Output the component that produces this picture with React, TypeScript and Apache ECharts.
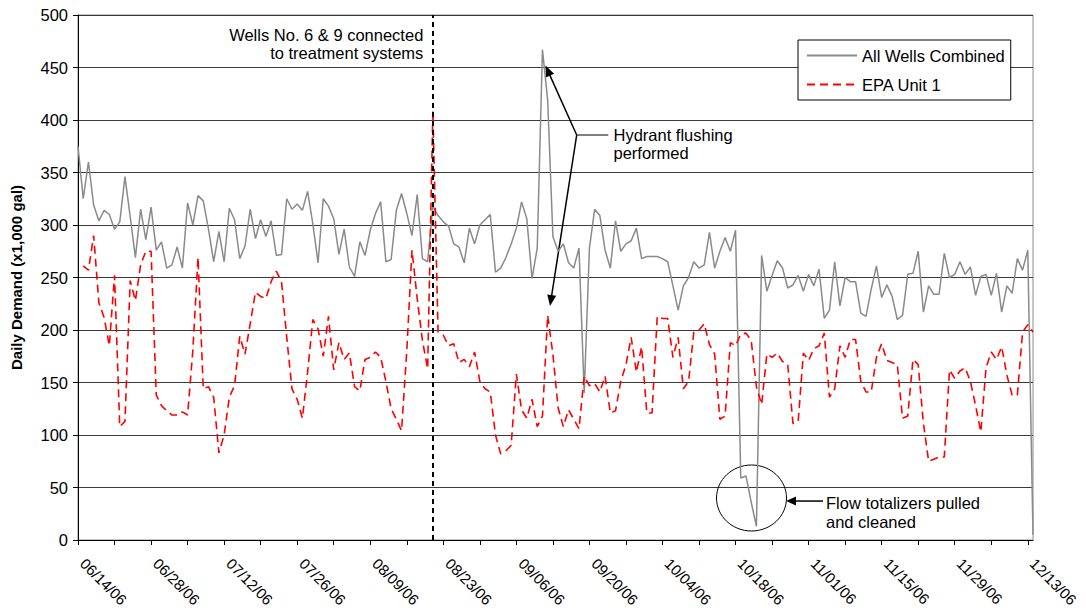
import React, { useEffect, useRef } from "react";
import * as echarts from "echarts";

// Day 0 = 06/14/06, one value per day up to 12/14/06 (day 183)
const START_YEAR = 2006;
const START_MONTH = 5; // June (0-based)
const START_DAY = 14;
const LAST_DAY = 183;
const TICK_DAYS = 7;
const LABEL_DAYS = 14;
const CONNECT_DAY = 68; // Wells No. 6 & 9 connected

const allWellsCombined: number[] = [
  375, 325, 360, 319, 304, 314, 310, 296, 303, 346,
  308, 269, 315, 286, 317, 276, 284, 259, 262, 279,
  259, 321, 300, 328, 323, 296, 265, 294, 265, 316,
  305, 268, 280, 315, 287, 305, 289, 304, 271, 272,
  325, 315, 320, 314, 332, 301, 264, 325, 318, 306,
  272, 296, 260, 251, 284, 271, 295, 311, 322, 265,
  267, 314, 330, 311, 290, 329, 268, 265, 318, 309,
  303, 299, 282, 279, 264, 297, 282, 300, 305, 310,
  255, 259, 269, 282, 297, 322, 306, 249, 278, 467,
  419, 289, 275, 282, 264, 259, 278, 140, 278, 315,
  309, 276, 259, 304, 275, 282, 285, 297, 268, 270,
  270, 270, 268, 265, 242, 219, 242, 250, 265, 259,
  262, 293, 259, 275, 288, 275, 295, 59, 61, 36,
  13, 271, 237, 252, 266, 259, 240, 243, 252, 237,
  253, 242, 258, 211, 219, 265, 223, 250, 246, 246,
  216, 213, 239, 261, 231, 243, 232, 210, 214, 253,
  254, 275, 217, 242, 234, 234, 273, 250, 253, 265,
  253, 260, 233, 251, 253, 233, 254, 217, 242, 235,
  268, 257, 276, 5,
];

const epaUnit1: (number | null)[] = [
  null, 261, 257, 290, 226, 212, 185, 252, 108, 113,
  247, 228, 262, 275, 275, 138, 128, 123, 119, 119,
  122, 119, 180, 269, 144, 146, 136, 83, 100, 136,
  147, 194, 177, 206, 236, 232, 230, 246, 256, 246,
  193, 144, 134, 116, 160, 210, 201, 175, 213, 162,
  188, 172, 178, 146, 142, 172, 174, 179, 174, 151,
  125, 115, 104, 180, 276, 230, 190, 163, 408, 198,
  195, 185, 187, 169, 172, 165, 179, 151, 144, 141,
  100, 82, 85, 90, 158, 124, 116, 134, 108, 118,
  214, 177, 126, 108, 124, 115, 106, 156, 147, 149,
  141, 156, 121, 123, 151, 167, 193, 160, 184, 121,
  121, 213, 211, 211, 174, 193, 144, 151, 198, 200,
  206, 186, 177, 115, 118, 188, 185, 196, 197, 190,
  146, 129, 177, 174, 178, 170, 167, 111, 113, 178,
  171, 182, 185, 197, 136, 144, 185, 174, 191, 191,
  151, 141, 141, 174, 187, 171, 169, 167, 116, 118,
  172, 167, 111, 75, 77, 79, 79, 162, 154, 161,
  164, 151, 128, 103, 164, 179, 172, 184, 157, 138,
  138, 198, 205, 198,
];

const yTicks = { min: 0, max: 500, interval: 50 };

const FONT = '"Liberation Sans", Arial, Helvetica, sans-serif';
const FS = 16.5;

function dayLabel(day: number): string {
  const d = new Date(Date.UTC(START_YEAR, START_MONTH, START_DAY + day));
  const mm = String(d.getUTCMonth() + 1).padStart(2, "0");
  const dd = String(d.getUTCDate()).padStart(2, "0");
  const yy = String(d.getUTCFullYear() % 100).padStart(2, "0");
  return `${mm}/${dd}/${yy}`;
}

function arrow(from: number[], tip: number[], width: number, len = 11, hw = 4.5) {
  const dx = tip[0] - from[0];
  const dy = tip[1] - from[1];
  const L = Math.sqrt(dx * dx + dy * dy) || 1;
  const ux = dx / L;
  const uy = dy / L;
  const bx = tip[0] - ux * len;
  const by = tip[1] - uy * len;
  const px = -uy;
  const py = ux;
  return [
    {
      type: "line",
      shape: { x1: from[0], y1: from[1], x2: bx + ux * 1, y2: by + uy * 1 },
      style: { stroke: "#000", lineWidth: width },
      silent: true,
    },
    {
      type: "polygon",
      shape: {
        points: [
          [tip[0], tip[1]],
          [bx + px * hw, by + py * hw],
          [bx - px * hw, by - py * hw],
        ],
      },
      style: { fill: "#000" },
      silent: true,
    },
  ];
}

export default function App() {
  const ref = useRef<HTMLDivElement>(null);

  useEffect(() => {
    if (!ref.current) return;
    const chart = echarts.init(ref.current, undefined, { renderer: "svg" });

    const grayData = allWellsCombined.map((v, i) => [i, v]);
    const redData = epaUnit1
      .map((v, i) => [i, v])
      .filter((p) => p[1] !== null);

    const option: any = {
      animation: false,
      backgroundColor: "#fff",
      textStyle: { fontFamily: FONT },
      grid: {
        left: 78,
        right: 53,
        top: 15,
        bottom: 73,
        containLabel: false,
        outerBoundsMode: "none",
        show: true,
        borderColor: "#8c8c8c",
        borderWidth: 1,
        backgroundColor: "transparent",
      },
      legend: {
        left: 798,
        top: 40,
        orient: "vertical",
        backgroundColor: "#fff",
        borderColor: "#000",
        borderWidth: 1,
        borderRadius: 0,
        padding: [7, 6, 7, 8],
        itemWidth: 50,
        itemHeight: 14,
        itemGap: 12,
        itemStyle: { opacity: 0, color: "transparent", borderWidth: 0 },
        textStyle: { fontSize: FS, color: "#000", fontFamily: FONT },
        data: ["All Wells Combined", "EPA Unit 1"],
      },
      xAxis: {
        type: "value",
        min: 0,
        max: LAST_DAY,
        interval: TICK_DAYS,
        axisLine: { show: true, onZero: false, lineStyle: { color: "#000", width: 1 } },
        axisTick: { show: true, length: 5, lineStyle: { color: "#000" } },
        splitLine: { show: false },
        axisLabel: {
          rotate: -45,
          margin: 16,
          padding: [0, 0, 0, 7],
          fontSize: 15,
          color: "#000",
          fontFamily: FONT,
          showMaxLabel: false,
          formatter: (v: number) => (v % LABEL_DAYS === 0 ? dayLabel(v) : ""),
        },
      },
      yAxis: {
        type: "value",
        min: yTicks.min,
        max: yTicks.max,
        interval: yTicks.interval,
        name: "Daily Demand (x1,000 gal)",
        nameLocation: "middle",
        nameGap: 54,
        nameTextStyle: { fontSize: 15, fontWeight: "bold", color: "#000", fontFamily: FONT },
        axisLine: { show: true, lineStyle: { color: "#000", width: 1 } },
        axisTick: { show: true, length: 5, lineStyle: { color: "#000" } },
        splitLine: { show: true, lineStyle: { color: "#3a3a3a", width: 1 } },
        axisLabel: { fontSize: FS, color: "#000", margin: 10, fontFamily: FONT },
      },
      series: [
        {
          name: "All Wells Combined",
          type: "line",
          data: grayData,
          symbol: "none",
          showSymbol: false,
          lineStyle: { color: "#8a8a8a", width: 1.5 },
          itemStyle: { color: "#8a8a8a" },
          z: 2,
          markLine: {
            silent: true,
            symbol: ["none", "none"],
            label: { show: false },
            lineStyle: { color: "#000", type: [5, 4], width: 2 },
            data: [{ xAxis: CONNECT_DAY }],
          },
        },
        {
          name: "EPA Unit 1",
          type: "line",
          data: redData,
          symbol: "none",
          showSymbol: false,
          lineStyle: { color: "#ff0000", width: 1.6, type: [8, 5] },
          itemStyle: { color: "#ff0000" },
          z: 3,
        },
      ],
    };
    chart.setOption(option);

    const P = (d: number, v: number) =>
      chart.convertToPixel({ gridIndex: 0 }, [d, v]) as number[];

    const textStyle = (text: string, align: string) => ({
      text,
      font: `${FS}px ${FONT}`,
      fill: "#000",
      align,
      verticalAlign: "middle",
    });

    const wells1 = P(66.17, 481.0);
    const wells2 = P(66.17, 463.5);
    const hub = P(95.56, 385.7);
    const upTip = P(89.58, 451.9);
    const lowTip = P(90.45, 222.9);
    const connEnd = P(101.62, 385.7);
    const hyd1 = P(102.61, 385.7);
    const hyd2 = P(102.61, 368.1);
    const circ = P(129.06, 40);
    const flowFrom = P(142.76, 37.1);
    const flowTip = P(135.67, 37.1);
    const flow1 = P(143.33, 35.7);
    const flow2 = P(143.33, 17.6);

    const graphic: any[] = [
      { type: "text", x: wells1[0], y: wells1[1], style: textStyle("Wells No. 6 & 9 connected", "right"), silent: true },
      { type: "text", x: wells2[0], y: wells2[1], style: textStyle("to treatment systems", "right"), silent: true },
      { type: "text", x: hyd1[0], y: hyd1[1], style: textStyle("Hydrant flushing", "left"), silent: true },
      { type: "text", x: hyd2[0], y: hyd2[1], style: textStyle("performed", "left"), silent: true },
      {
        type: "line",
        shape: { x1: hub[0], y1: hub[1], x2: connEnd[0], y2: connEnd[1] },
        style: { stroke: "#000", lineWidth: 1 },
        silent: true,
      },
      ...arrow(hub, upTip, 1.5),
      ...arrow(hub, lowTip, 1.5),
      {
        type: "ellipse",
        shape: { cx: circ[0], cy: circ[1], rx: 35, ry: 33 },
        style: { fill: "none", stroke: "#000", lineWidth: 1 },
        silent: true,
      },
      ...arrow(flowFrom, flowTip, 1.5, 10, 4.5),
      { type: "text", x: flow1[0], y: flow1[1], style: textStyle("Flow totalizers pulled", "left"), silent: true },
      { type: "text", x: flow2[0], y: flow2[1], style: textStyle("and cleaned", "left"), silent: true },
    ];
    chart.setOption({ graphic });

    return () => chart.dispose();
  }, []);

  return (
    <div
      ref={ref}
      style={{ position: "absolute", left: 0, top: 0, width: 1086, height: 613 }}
    />
  );
}
